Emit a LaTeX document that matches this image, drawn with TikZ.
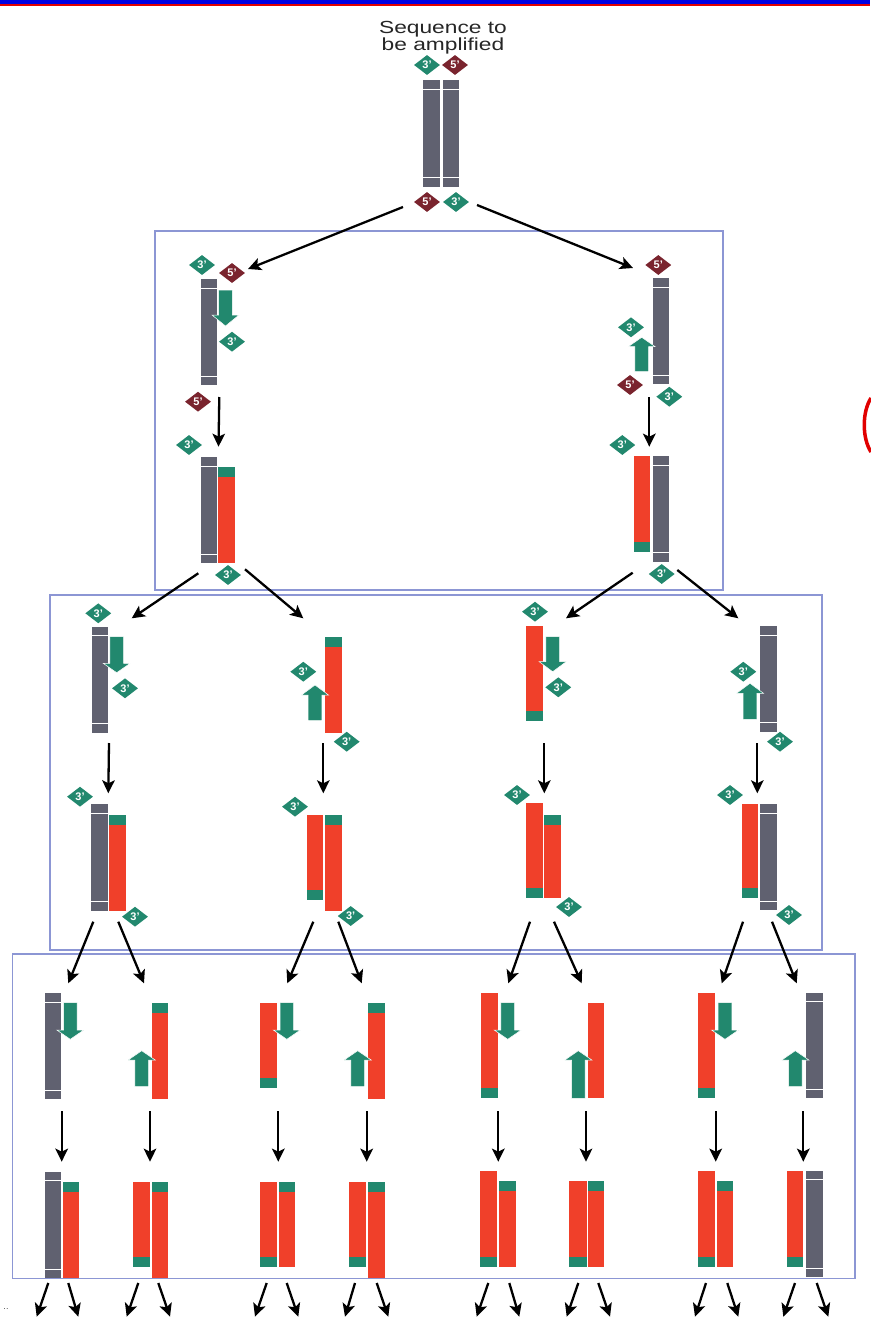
\documentclass[tikz,border=0pt]{standalone}
\usepackage{fontspec}
\setmainfont{Liberation Sans}
\usetikzlibrary{shapes.geometric,arrows.meta}
\definecolor{strandgray}{RGB}{96,97,112}
\definecolor{strandred}{RGB}{240,64,42}
\definecolor{primerteal}{RGB}{34,136,110}
\definecolor{endmaroon}{RGB}{122,36,46}
\definecolor{panelblue}{RGB}{140,150,212}
\definecolor{bandblue}{RGB}{0,0,225}
\definecolor{bandred}{RGB}{225,0,0}

% template strand: grey bar with white marks near both ends
\newcommand\graystrand[4]{%
  \fill[strandgray] (#1,#2) rectangle (#3,#4);
  \draw[white,line width=0.8pt] (#1,#2+9) -- (#3,#2+9) (#1,#4-9) -- (#3,#4-9);}
% copied strand: red bar, teal primer segment at top (t), bottom (b) or none (n)
\newcommand\redstrand[5]{%
  \fill[strandred] (#1,#2) rectangle (#3,#4);
  \ifx t#5\fill[primerteal] (#1,#2) rectangle (#3,#2+10);\fi
  \ifx b#5\fill[primerteal] (#1,#4-10) rectangle (#3,#4);\fi}
% primer arrow: centre x, tail, neck, tip
\newcommand\primer[4]{%
  \filldraw[fill=primerteal,draw=white,line width=0.5pt]
    (#1-6.8,#2) -- (#1+6.8,#2) -- (#1+6.8,#3) -- (#1+13.5,#3) -- (#1,#4)
    -- (#1-13.5,#3) -- (#1-6.8,#3) -- cycle;}
% arrow between two named points
\newcommand\conn[5]{%
  \coordinate (#1s) at (#2,#3); \coordinate (#1e) at (#4,#5);
  \draw[conn] (#1s) -- (#1e);}

\begin{document}
\begin{tikzpicture}[x=1pt,y=-1pt,
  conn/.style={line width=2.3pt,-{Stealth[length=13pt,width=12.5pt,inset=3pt]}},
  panel/.style={draw=panelblue,line width=1.4pt},
  three/.style={diamond,fill=primerteal,text=white,
    font=\bfseries\fontsize{11}{11}\selectfont,
    minimum width=26pt,minimum height=20pt,inner sep=0pt},
  five/.style={three,fill=endmaroon}]
\useasboundingbox (0,0) rectangle (870,1325);
\fill[white] (0,0) rectangle (870,1325);

% header band
\fill[bandblue] (0,0) rectangle (870,4.3);
\fill[bandred] (0,4.3) rectangle (870,6);

% panels for the three cycles
\draw[panel] (155,231) rectangle (723,590);
\draw[panel] (50,595) rectangle (822,950);
\draw[panel] (12.7,954) rectangle (855,1278.3);

% ---------------- starting duplex ----------------
\node[anchor=base,xscale=1.3,text=black!85,font=\fontsize{17.5}{17}\selectfont] (seqa) at (443,33) {Sequence to};
\node[anchor=base,xscale=1.3,text=black!85,font=\fontsize{17.5}{17}\selectfont] (seqb) at (443,50) {be amplified};
\graystrand{423.3}{80}{440}{186.7}
\graystrand{442.7}{80}{459.3}{186.7}
\node[three] (t0a) at (427,65) {3'};
\node[five]  (f0a) at (455,65) {5'};
\node[five]  (f0b) at (427,202) {5'};
\node[three] (t0b) at (456,202) {3'};
\conn{s0l}{403}{207}{248}{269}
\conn{s0r}{477}{205}{633}{268}

% ---------------- cycle 1 ----------------
% left template
\graystrand{201}{279.3}{216.7}{385}
\primer{225.5}{290}{315}{326}
\node[three] (t1a) at (202,265) {3'};
\node[five]  (f1a) at (232,273) {5'};
\node[three] (t1b) at (232,341.7) {3'};
\node[five]  (f1b) at (198,401.7) {5'};
\conn{c1l}{219.3}{397}{218.5}{446.7}
\graystrand{200.7}{457.3}{216.7}{563.3}
\redstrand{218.3}{467.3}{235}{563.3}{t}
\node[three] (t1c) at (189,445) {3'};
\node[three] (t1d) at (228,575) {3'};
\conn{d1a}{198.3}{573.3}{131.7}{618.3}
\conn{d1b}{245}{569.3}{303.3}{618.3}
% right template
\graystrand{652.7}{278.3}{669.3}{384}
\primer{641.7}{371.7}{346.7}{337.3}
\node[five]  (f1c) at (658.3,265) {5'};
\node[three] (t1e) at (631,327.3) {3'};
\node[five]  (f1d) at (630,385) {5'};
\node[three] (t1f) at (669.3,396.7) {3'};
\conn{c1r}{649.3}{397}{649.3}{446.7}
\redstrand{634}{456}{650}{551.7}{b}
\graystrand{652.7}{456}{669.3}{561.7}
\node[three] (t1g) at (622.3,445) {3'};
\node[three] (t1h) at (661.7,574) {3'};
\conn{d1c}{632.7}{572.7}{566}{618.3}
\conn{d1d}{677.3}{570}{738.3}{618.3}

% ---------------- cycle 2 ----------------
% column A
\graystrand{91.7}{626.7}{108.3}{732.7}
\primer{116.7}{636.7}{663.3}{672.7}
\node[three] (t2a) at (98.3,613.3) {3'};
\node[three] (t2b) at (125,688.3) {3'};
\conn{c2a}{109}{743}{108.3}{793.3}
\graystrand{91}{804.3}{108.3}{910.7}
\redstrand{109.3}{815}{126}{910.7}{t}
\node[three] (t2c) at (80,796.7) {3'};
\node[three] (t2d) at (135,916.7) {3'};
\conn{d2a}{93.3}{921.7}{68.3}{983.3}
\conn{d2b}{118.3}{921.7}{144}{983.3}
% column B
\redstrand{325}{636.7}{341.7}{732.7}{t}
\primer{315}{720.7}{695}{685}
\node[three] (t2e) at (303.3,671.7) {3'};
\node[three] (t2f) at (346.7,741.7) {3'};
\conn{c2b}{323.3}{743}{323.3}{793.3}
\redstrand{306.7}{815}{323.3}{900}{b}
\redstrand{325}{815}{341.7}{910.7}{t}
\node[three] (t2g) at (295,806.7) {3'};
\node[three] (t2h) at (350.7,916) {3'};
\conn{d2c}{313.3}{921.7}{287.3}{983.3}
\conn{d2d}{338.3}{921.7}{361.7}{983.3}
% column C
\redstrand{526}{626}{542.7}{720.7}{b}
\primer{552.7}{636.7}{661.7}{671.7}
\node[three] (t2i) at (535,611.7) {3'};
\node[three] (t2j) at (558.3,687.3) {3'};
\conn{c2c}{544.3}{743}{544.3}{793.3}
\redstrand{526}{803}{542.7}{898}{b}
\redstrand{544.3}{815}{561}{898}{t}
\node[three] (t2k) at (517,795) {3'};
\node[three] (t2l) at (569,907) {3'};
\conn{d2e}{530}{921.7}{508.3}{983.3}
\conn{d2f}{554}{921.7}{581.7}{983.3}
% column D
\graystrand{760}{626}{776.7}{731.7}
\primer{750}{719.3}{693.3}{683.3}
\node[three] (t2m) at (743.3,671.7) {3'};
\node[three] (t2n) at (780,741.7) {3'};
\conn{c2d}{757.3}{743}{757.3}{793.3}
\redstrand{742}{804}{758.3}{898}{b}
\graystrand{760}{804}{776.7}{910}
\node[three] (t2o) at (730,795) {3'};
\node[three] (t2p) at (789,915) {3'};
\conn{d2g}{743}{921.7}{721.7}{983.3}
\conn{d2h}{772}{921.7}{796.7}{983.3}

% ---------------- cycle 3 ----------------
% primed single strands
\graystrand{45}{993.3}{60.7}{1099.3}
\primer{70.3}{1002.7}{1030}{1039.3}
\redstrand{151.7}{1002.7}{168.3}{1099.3}{t}
\primer{141.7}{1086.7}{1060}{1050.7}
\redstrand{260}{1002.7}{276.7}{1088.3}{b}
\primer{286.8}{1002.7}{1030}{1039.3}
\redstrand{368.3}{1002.7}{385}{1099.3}{t}
\primer{357.7}{1086.7}{1060}{1050.7}
\redstrand{480.7}{992.7}{497.7}{1098.3}{b}
\primer{507.7}{1002.7}{1030}{1039.3}
\redstrand{588.3}{1002.7}{604}{1098.3}{n}
\primer{578.3}{1098.3}{1060}{1050.7}
\redstrand{698.3}{992.7}{715}{1098.3}{b}
\primer{725}{1002.7}{1030}{1039.3}
\graystrand{806}{992.7}{822.7}{1098.3}
\primer{795.3}{1086.7}{1060}{1050.7}
% extension steps
\conn{c3a}{61.7}{1111}{61.7}{1161.7}
\conn{c3b}{150}{1111}{150}{1161.7}
\conn{c3c}{278.3}{1111}{278.3}{1161.7}
\conn{c3d}{366.7}{1111}{366.7}{1161.7}
\conn{c3e}{498.3}{1111}{498.3}{1161.7}
\conn{c3f}{586}{1111}{586}{1161.7}
\conn{c3g}{715.7}{1111}{715.7}{1161.7}
\conn{c3h}{803.3}{1111}{803.3}{1161.7}
% duplex products
\graystrand{45}{1171.7}{60.7}{1278.3}
\redstrand{62.7}{1181.7}{79}{1278.3}{t}
\redstrand{133.3}{1181.7}{150}{1267.3}{b}
\redstrand{151.7}{1181.7}{168.3}{1278.3}{t}
\redstrand{260}{1181.7}{276.7}{1267.3}{b}
\redstrand{279}{1181.7}{295}{1267.3}{t}
\redstrand{349.3}{1181.7}{366}{1267.3}{b}
\redstrand{368.3}{1181.7}{385}{1278.3}{t}
\redstrand{480}{1170.7}{497}{1266.7}{b}
\redstrand{499.3}{1180.7}{516}{1266.7}{t}
\redstrand{569.3}{1180.7}{586.7}{1266.7}{b}
\redstrand{588.3}{1180.7}{604}{1266.7}{t}
\redstrand{698.3}{1170.7}{715}{1266.7}{b}
\redstrand{717.3}{1180.7}{733.3}{1266.7}{t}
\redstrand{786.7}{1170.7}{803.3}{1266.7}{b}
\graystrand{806}{1170.7}{822.7}{1277.3}

% next cycle
\conn{n1}{48.3}{1283}{36.7}{1316.7}
\conn{n2}{68.3}{1283}{78.3}{1316.7}
\conn{n3}{138.3}{1283}{126.7}{1316.7}
\conn{n4}{158.3}{1283}{170}{1316.7}
\conn{n5}{266.7}{1283}{255}{1316.7}
\conn{n6}{286.7}{1283}{298.3}{1316.7}
\conn{n7}{355}{1283}{345}{1316.7}
\conn{n8}{376.7}{1283}{388.3}{1316.7}
\conn{n9}{488.3}{1283}{476.7}{1316.7}
\conn{n10}{509.3}{1283}{519.3}{1316.7}
\conn{n11}{578.3}{1283}{566.7}{1316.7}
\conn{n12}{598.3}{1283}{610}{1316.7}
\conn{n13}{706}{1283}{695}{1316.7}
\conn{n14}{727.3}{1283}{738.3}{1316.7}
\conn{n15}{795}{1283}{783.3}{1316.7}
\conn{n16}{816.7}{1283}{828.3}{1316.7}

% margin marks
\node[font=\fontsize{9}{9}\selectfont,text=black!70] (dots) at (6,1309) {..};
\draw[bandred,line width=3.5pt] (871,398) .. controls (862,412) and (862,438) .. (871,452);
\end{tikzpicture}
\end{document}
